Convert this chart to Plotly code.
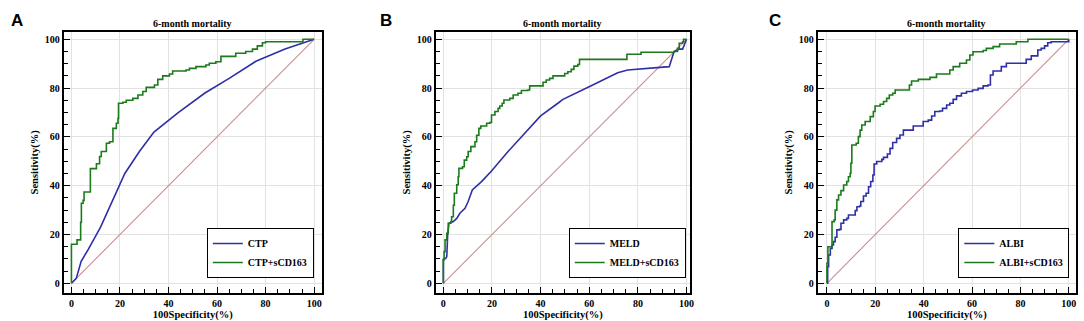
import plotly.graph_objects as go

W, H = 1084, 321

# ---------------- data ----------------
# Panel A
ctp_x = [0, 1, 2, 4, 7, 12, 17, 22, 28, 34, 44, 55, 65, 76, 88, 100]
ctp_y = [0, 1, 2, 9, 14, 23, 34, 45, 54, 62, 70, 78, 84, 91, 96, 100]
ctp_s_x = [0, 0, 2.3, 3.8, 4.1, 4.8, 5.2, 7.3, 7.8, 9.6, 10.3, 11.6, 12.3, 14.4, 15.7, 17.1,
           18.5, 19.2, 19.4, 21.2, 22.6, 25.3, 27.4, 29.4, 30.8, 34.2, 35.6, 37.6, 40.4, 41.7,
           47.2, 48.6, 51.3, 55.4, 56.8, 59.5, 61.6, 66.3, 67.7, 71.8, 74.6, 76.6, 78.7, 80,
           93.7, 95.4, 100]
ctp_s_y = [0, 16, 17.8, 25, 32.8, 34, 37.4, 37.4, 47, 47, 49, 52, 54, 57.4, 58, 63.5,
           65.6, 67.6, 73.8, 74.2, 75, 75.8, 77.2, 78.6, 80.3, 81.3, 83.6, 85, 85.8, 87,
           87.4, 88.1, 88.8, 89.5, 90.2, 90.8, 93, 93, 94.3, 95, 96, 97.3, 98.6, 99,
           99, 100, 100]

# Panel B
meld_x = [0, 0, 1, 1.4, 1.8, 2.3, 4.1, 5.5, 6.8, 8.9, 10.2, 11.9, 15.7, 19.8, 26.6, 33.5,
          40, 47.1, 49.2, 60.8, 71.7, 75.8, 90.8, 92.9, 94.9, 97, 98.4, 100]
meld_y = [0, 9.8, 10.2, 11, 20.5, 24.6, 25.3, 26.6, 28.7, 30.7, 33.5, 38.3, 41.7, 46, 54, 61.5,
          68.6, 73.8, 75.4, 81, 86.3, 87.4, 88.8, 88.8, 95, 96, 96, 100]
meld_s_x = [0, 0, 0.3, 0.7, 1.4, 2, 3.1, 3.4, 4.1, 4.5, 5.5, 6.1, 6.4, 7.9, 8.6, 9.6, 10.2,
            11.3, 13, 13.7, 14.6, 15.4, 17.1, 17.8, 19.1, 19.8, 21.2, 22.5, 23.2, 24.2, 24.9,
            27.3, 28.7, 30.7, 32.1, 34.8, 35.5, 40.3, 41, 42.3, 43.7, 45.1, 48.5, 49.9, 51.2,
            52.6, 53.7, 55.3, 56, 75.1, 75.5, 80.6, 81.3, 94.9, 96.3, 97, 98.4, 98.8, 100]
meld_s_y = [0, 9.6, 13, 17.8, 20.5, 24.6, 25.3, 27.3, 32, 36.9, 40.4, 43.7, 47.1, 47.8, 50.5,
            51.9, 54, 56, 58, 60.7, 63.5, 64.5, 64.5, 65.6, 65.9, 69, 70.4, 71.7, 72.7, 73.8,
            75.1, 75.8, 77.2, 77.9, 79, 79.2, 80.9, 80.9, 82.4, 83.3, 84, 85, 85, 86, 86.7,
            87.7, 89, 89.7, 91.8, 91.8, 93.9, 93.9, 94.7, 95, 96.3, 98.4, 99, 100, 100]

# Panel C
albi_x = [0, 0.3, 0.7, 1.4, 2.1, 2.7, 3.4, 4.1, 5.2, 5.8, 6.9, 8.2, 8.9, 11, 11.7, 12.4, 13.5,
          14, 15.1, 16.2, 17.2, 18.1, 19, 19.5, 20.6, 22.7, 23.4, 25, 26.1, 27.2, 28.8, 30.2,
          31.6, 34.6, 35.7, 38.5, 39.8, 41.9, 43.3, 44.6, 46.7, 47.8, 49.5, 50.8, 52.2, 53.6,
          55.6, 57.7, 60.2, 62.5, 64.6, 66.6, 67.6, 68.7, 70.7, 72.1, 74.2, 80.8, 82.4, 84.5,
          86.5, 87.2, 88.6, 90, 91.3, 92.7, 97.5, 100]
albi_y = [0, 6.8, 11.6, 14.3, 15.7, 17.1, 18.9, 21.9, 22.1, 24.6, 26, 26.6, 28, 28, 29.8, 31.4,
          31.7, 33.5, 35.8, 36.9, 39.6, 41.7, 44.4, 48.9, 49.9, 50.8, 51.6, 53, 55.3, 57.7,
          59.4, 60.8, 62.8, 62.8, 64.5, 64.5, 66.3, 66.9, 68.6, 70.4, 70.6, 71.7, 73.1, 73.8,
          75.4, 76.8, 77.9, 78.6, 79.2, 79.9, 80.9, 81.3, 85.4, 87, 87, 88.8, 90.2, 90.2,
          91.8, 93.2, 93.2, 95.6, 96.3, 97.3, 98.6, 99, 99, 100]
albi_s_x = [0, 0, 0.4, 1.6, 2.1, 3, 3.4, 4.1, 4.8, 5.8, 6.9, 8.2, 8.9, 9.6, 9.9, 10.3, 12.1,
            13, 13.7, 14.4, 15.8, 17.9, 19.2, 19.9, 22, 23.4, 24.7, 25.8, 27.2, 28.2, 33, 34.1,
            35, 37.8, 42.6, 45.3, 49.5, 50.8, 52.2, 54.9, 57.7, 59.1, 60.4, 64.6, 65.9, 68.7,
            71.4, 78.3, 82.4, 83.1, 100]
albi_s_y = [0, 8.2, 15, 15, 25.3, 26, 30, 34.2, 36.2, 38, 40.3, 41.7, 43.7, 45.1, 49.2, 56.7,
            57.4, 60.1, 62.8, 64.9, 66.3, 68.3, 70.4, 72.7, 73.4, 74.5, 75.8, 77.2, 77.9, 79.2,
            79.2, 81.3, 82.9, 83.6, 84.4, 85.8, 85.8, 87.4, 88.8, 90.2, 91.5, 93.6, 94.9, 95.4,
            96.3, 97, 98.1, 99, 99, 100, 100]

ref_x = [0, 100]
ref_y = [0, 100]

panel_letters = ["A", "B", "C"]
panel_title = "6-month mortality"
names = [("CTP", "CTP+sCD163"), ("MELD", "MELD+sCD163"), ("ALBI", "ALBI+sCD163")]
series = [((ctp_x, ctp_y, "linear"), (ctp_s_x, ctp_s_y, "hv")),
          ((meld_x, meld_y, "linear"), (meld_s_x, meld_s_y, "hv")),
          ((albi_x, albi_y, "hv"), (albi_s_x, albi_s_y, "hv"))]
y_ticks = [0, 20, 40, 60, 80, 100]
x_ticks = [0, 20, 40, 60, 80, 100]

# ---------------- layout (pixel geometry) ----------------
frames = [(64, 323, -3.16, 103.16), (437.3, 692.7, -3.16, 101.5), (820.7, 1080, -3.83, 103.0)]
y_top_px, y_bot_px = 32, 292.7
y_range = [-3.85, 103.0]
letter_px = [17, 387, 778]
legend_px = [(315, 278), (688.3, 278), (1073.3, 278)]

BLUE = "#2f2fa6"
GREEN = "#1b7a1b"
REF = "#cf8c8c"
SERIF = "Liberation Serif"

fig = go.Figure()
annotations = []
legend_ids = ["legend", "legend2", "legend3"]

for i in range(3):
    xa = "x" if i == 0 else f"x{i+1}"
    ya = "y" if i == 0 else f"y{i+1}"
    (bx, by, bshape), (gx, gy, gshape) = series[i]
    fig.add_trace(go.Scatter(x=ref_x, y=ref_y, mode="lines", xaxis=xa, yaxis=ya,
                             line=dict(color=REF, width=1.1), showlegend=False, hoverinfo="skip"))
    fig.add_trace(go.Scatter(x=bx, y=by, mode="lines", name=names[i][0], xaxis=xa, yaxis=ya,
                             line=dict(color=BLUE, width=1.6, shape=bshape), legend=legend_ids[i]))
    fig.add_trace(go.Scatter(x=gx, y=gy, mode="lines", name=names[i][1], xaxis=xa, yaxis=ya,
                             line=dict(color=GREEN, width=1.6, shape=gshape), legend=legend_ids[i]))

    l, r, r0, r1 = frames[i]
    axis_common = dict(
        showline=True, linecolor="black", linewidth=2, mirror=True,
        ticks="inside", ticklen=6, tickwidth=1.2, tickcolor="black",
        minor=dict(ticks="inside", ticklen=4, tickwidth=1.2, tickcolor="black", dtick=5,
                   showgrid=False),
        showgrid=True, gridcolor="#e2e2e2", gridwidth=1, zeroline=False,
        tickfont=dict(family=SERIF, size=10, color="black", weight="bold"),
        fixedrange=True,
    )
    fig.layout[f"xaxis{'' if i == 0 else i+1}"] = dict(
        axis_common, domain=[l / W, r / W], range=[r0, r1], anchor=ya,
        tickvals=x_ticks,
        title=dict(text="100Specificity(%)", standoff=2,
                   font=dict(family=SERIF, size=10.5, color="black", weight="bold")))
    fig.layout[f"yaxis{'' if i == 0 else i+1}"] = dict(
        axis_common, domain=[(H - y_bot_px) / H, (H - y_top_px) / H], range=y_range,
        anchor=xa, tickvals=y_ticks,
        title=dict(text="Sensitivity(%)", standoff=4,
                   font=dict(family=SERIF, size=10.5, color="black", weight="bold")))

    annotations.append(dict(text=panel_title, x=(l + r) / 2 / W, y=(H - 23) / H,
                            xref="paper", yref="paper", showarrow=False,
                            xanchor="center", yanchor="middle",
                            font=dict(family=SERIF, size=10, color="black", weight="bold")))
    annotations.append(dict(text=panel_letters[i], x=letter_px[i] / W, y=(H - 20) / H,
                            xref="paper", yref="paper", showarrow=False,
                            xanchor="center", yanchor="middle",
                            font=dict(family="Liberation Sans", size=17, color="black",
                                      weight="bold")))
    lx, ly = legend_px[i]
    fig.layout[legend_ids[i]] = dict(
        x=lx / W, y=(H - ly) / H, xanchor="right", yanchor="bottom",
        bgcolor="white", bordercolor="black", borderwidth=1,
        font=dict(family=SERIF, size=10, color="black", weight="bold"),
        tracegroupgap=0, itemwidth=30)

fig.update_layout(
    width=W, height=H, margin=dict(l=0, r=0, t=0, b=0),
    paper_bgcolor="white", plot_bgcolor="white",
    annotations=annotations, showlegend=True,
)

fig.write_html("out.html", config={"displayModeBar": False},
               post_script="document.body.style.margin='0px';"
                           "document.body.style.overflow='hidden';")
